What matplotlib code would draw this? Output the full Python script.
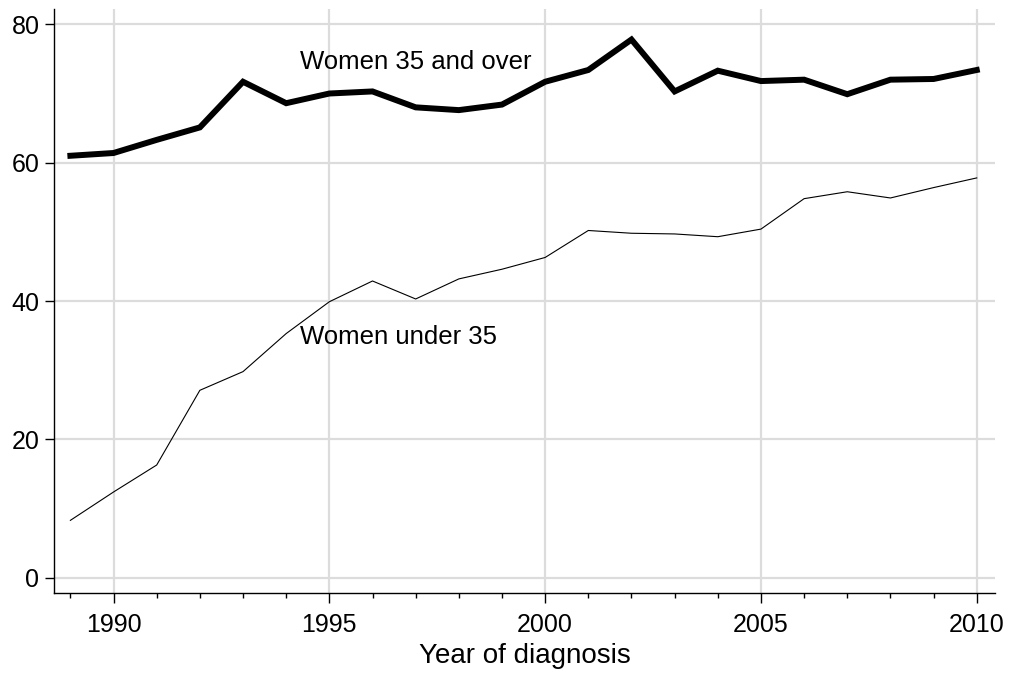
import numpy as np
import matplotlib
matplotlib.use("Agg")
import matplotlib.pyplot as plt
from matplotlib.ticker import MultipleLocator

# -----------------------------
# Data
# -----------------------------

years = list(range(1989, 2011))

women_35_over = [
    61.0, 61.4, 63.3, 65.1, 71.7, 68.6, 70.0, 70.3, 68.0, 67.6, 68.4,
    71.7, 73.4, 77.8, 70.3, 73.3, 71.8, 72.0, 69.9, 72.0, 72.1, 73.4
]

women_under_35 = [
    8.3, 12.4, 16.3, 27.1, 29.8, 35.3, 39.9, 42.9, 40.3, 43.2, 44.6,
    46.3, 50.2, 49.8, 49.7, 49.3, 50.4, 54.8, 55.8, 54.9, 56.4, 57.8
]

x_ticks = [1990, 1995, 2000, 2005, 2010]
y_ticks = [0, 20, 40, 60, 80]

# -----------------------------
# Plot
# -----------------------------

plt.rcParams["font.family"] = ["Liberation Sans", "DejaVu Sans"]

fig = plt.figure(figsize=(10.09, 6.75), dpi=100)
ax = fig.add_axes([0.0535, 0.1215, 0.9325, 0.865])

ax.plot(years, women_35_over, color="black", linewidth=4.3,
        solid_joinstyle="miter")
ax.plot(years, women_under_35, color="black", linewidth=0.8)

ax.text(1997.0, 74.6, "Women 35 and over", fontsize=18.5,
        ha="center", va="center")
ax.text(1996.6, 34.85, "Women under 35", fontsize=18.5,
        ha="center", va="center")

ax.set_xlim(1988.62, 2010.42)
ax.set_ylim(-2.2, 82.2)

ax.set_xticks(x_ticks)
ax.xaxis.set_minor_locator(MultipleLocator(1))
ax.set_yticks(y_ticks)

ax.grid(True, which="major", color="#dcdcdc", linewidth=1.6)
ax.set_axisbelow(True)

for side in ["top", "right"]:
    ax.spines[side].set_visible(False)
for side in ["left", "bottom"]:
    ax.spines[side].set_linewidth(1.0)

ax.tick_params(axis="y", which="major", direction="out",
               length=6.5, width=1.0, labelsize=18, pad=4)
ax.tick_params(axis="x", which="major", direction="out",
               length=7.5, width=1.0, labelsize=18, pad=7)
ax.tick_params(axis="x", which="minor", direction="out",
               length=3.8, width=1.0)

ax.set_xlabel("Year of diagnosis", fontsize=20, labelpad=4)

fig.savefig("out.png", dpi=100)
